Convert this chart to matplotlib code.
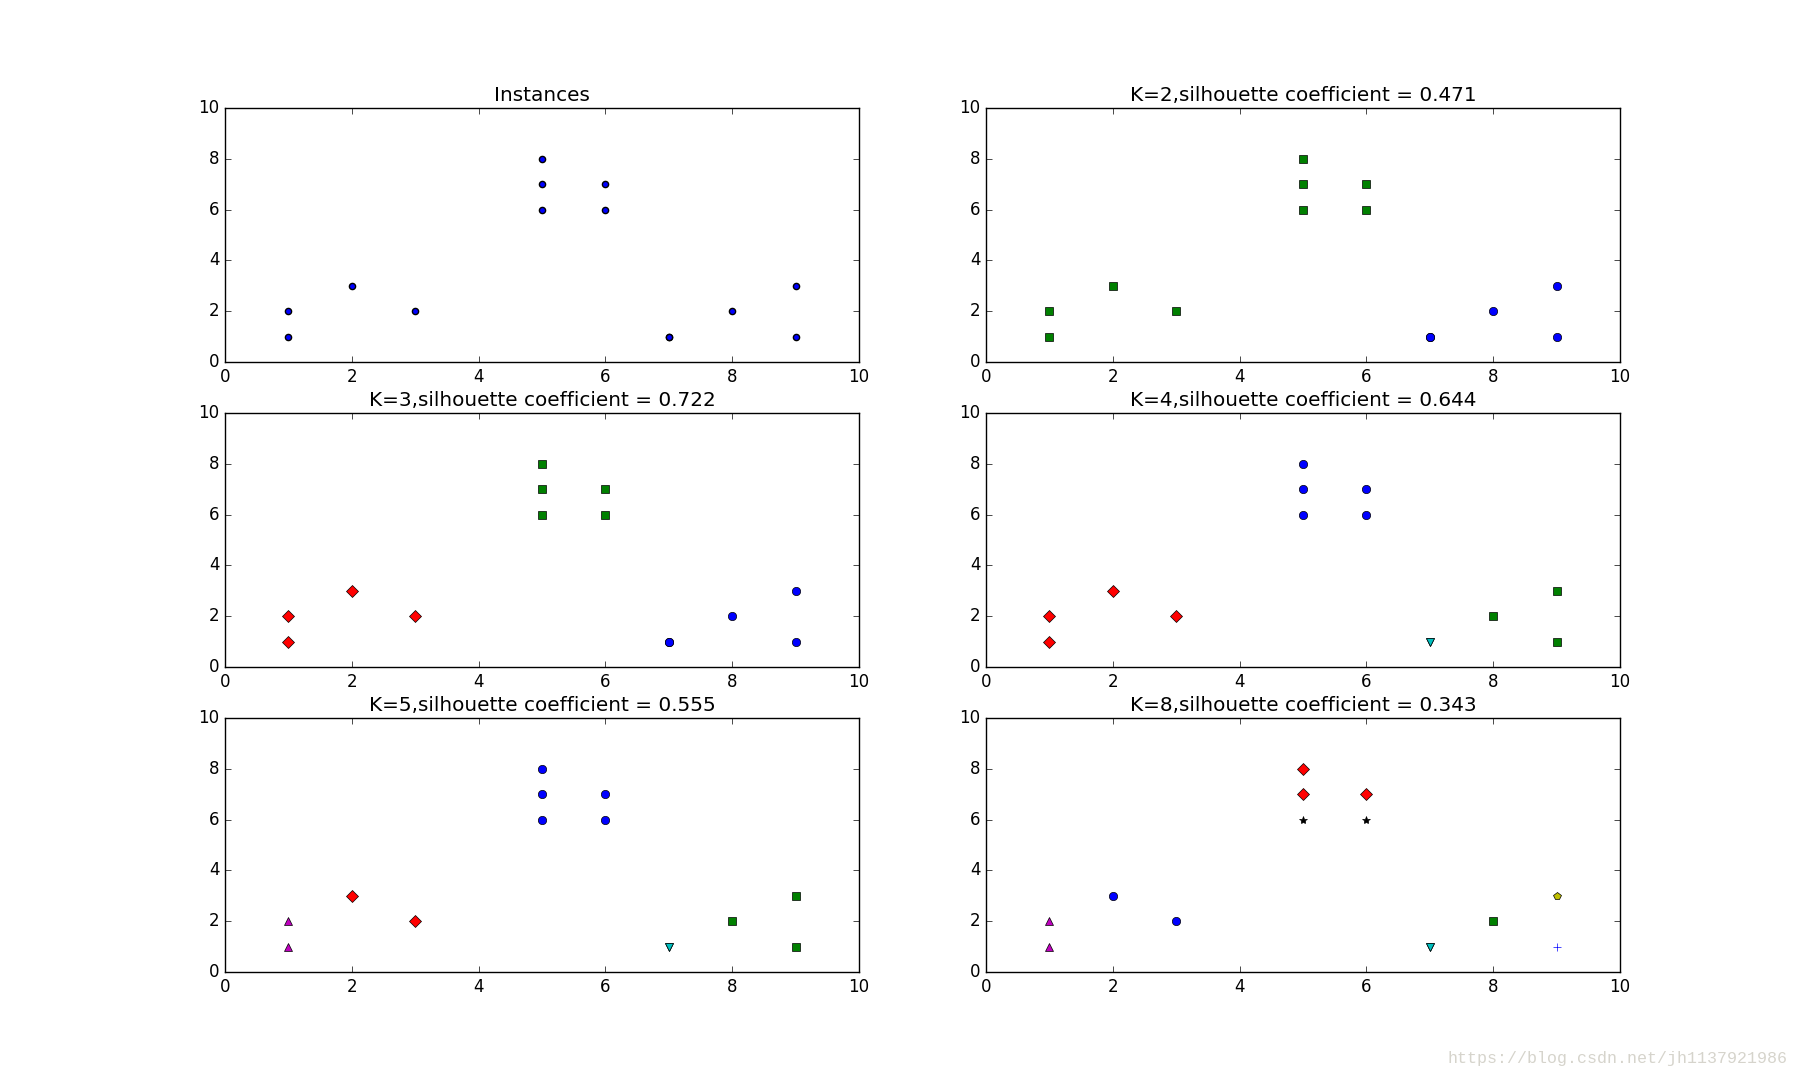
import matplotlib
matplotlib.use("Agg")
import matplotlib.pyplot as plt

plt.style.use('classic')

x_vals = [1, 2, 3, 1, 5, 6, 5, 5, 6, 7, 8, 9, 7, 9]
y_vals = [1, 3, 2, 2, 8, 6, 7, 6, 7, 1, 2, 1, 1, 3]

colors = ['b', 'g', 'r', 'c', 'm', 'y', 'k', 'b']
markers = ['o', 's', 'D', 'v', '^', 'p', '*', '+']

k_values = [2, 3, 4, 5, 8]
scores = [0.471, 0.722, 0.644, 0.555, 0.343]
labels = [
    [1, 1, 1, 1, 1, 1, 1, 1, 1, 0, 0, 0, 0, 0],
    [2, 2, 2, 2, 1, 1, 1, 1, 1, 0, 0, 0, 0, 0],
    [2, 2, 2, 2, 0, 0, 0, 0, 0, 3, 1, 1, 3, 1],
    [4, 2, 2, 4, 0, 0, 0, 0, 0, 3, 1, 1, 3, 1],
    [4, 0, 0, 4, 2, 6, 2, 6, 2, 3, 1, 7, 3, 5],
]

fig = plt.figure(figsize=(18, 10.8), dpi=100)
fig.subplots_adjust(left=0.125, right=0.9, bottom=0.1, top=0.9, wspace=0.2, hspace=0.2)

ax = fig.add_subplot(3, 2, 1)
ax.set_xlim(0, 10)
ax.set_ylim(0, 10)
ax.set_title('Instances')
ax.scatter(x_vals, y_vals, s=20, c='b', edgecolors='k')

for i, (k, sc, lab) in enumerate(zip(k_values, scores, labels)):
    ax = fig.add_subplot(3, 2, i + 2)
    for j, l in enumerate(lab):
        ax.plot(x_vals[j], y_vals[j], color=colors[l], marker=markers[l], ls='None')
    ax.set_xlim(0, 10)
    ax.set_ylim(0, 10)
    ax.set_title('K=%d,silhouette coefficient = %.03f' % (k, sc))

fig.text(0.993, 0.016, 'https://blog.csdn.net/jh1137921986', ha='right', va='baseline',
         fontsize=12, color='#d6d4cc', family='Liberation Mono')

fig.savefig('out.png', dpi=100)
